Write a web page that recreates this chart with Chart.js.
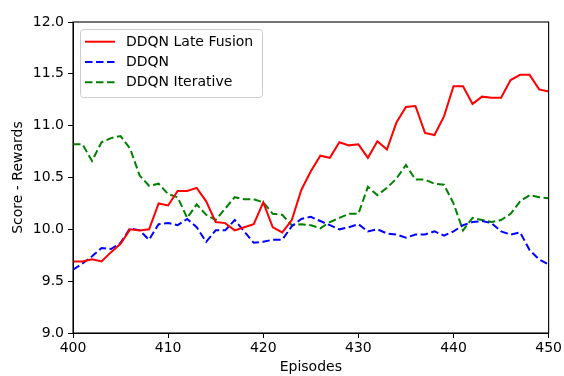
<!DOCTYPE html>
<html>
<head>
<meta charset="utf-8">
<script src="https://cdn.jsdelivr.net/npm/chart.js@4"></script>
<style>
html,body{margin:0;padding:0;background:#fff;}
canvas{display:block;}
</style>
</head>
<body>
<canvas id="c" width="564" height="376"></canvas>
<script>
const episodes = [400,401,402,403,404,405,406,407,408,409,410,411,412,413,414,415,416,417,418,419,420,421,422,423,424,425,426,427,428,429,430,431,432,433,434,435,436,437,438,439,440,441,442,443,444,445,446,447,448,449,450];

const lateFusion = [9.69,9.69,9.71,9.69,9.78,9.86,10.00,9.99,10.00,10.25,10.23,10.37,10.37,10.40,10.27,10.07,10.06,9.99,10.02,10.05,10.26,10.02,9.97,10.09,10.38,10.56,10.71,10.69,10.84,10.81,10.82,10.69,10.85,10.77,11.03,11.18,11.19,10.93,10.91,11.09,11.38,11.38,11.21,11.28,11.27,11.27,11.44,11.49,11.49,11.35,11.33];

const ddqn = [9.61,9.67,9.74,9.82,9.81,9.87,10.01,9.99,9.90,10.05,10.06,10.04,10.10,10.02,9.88,9.99,9.99,10.09,9.98,9.87,9.88,9.90,9.90,10.03,10.10,10.12,10.08,10.04,10.00,10.02,10.05,9.98,10.00,9.96,9.95,9.92,9.95,9.95,9.98,9.94,9.98,10.04,10.07,10.08,10.06,9.98,9.95,9.97,9.80,9.71,9.66];

const iterative = [10.82,10.82,10.66,10.84,10.88,10.90,10.78,10.52,10.42,10.44,10.34,10.31,10.11,10.24,10.14,10.09,10.20,10.31,10.29,10.29,10.26,10.15,10.14,10.04,10.05,10.04,10.01,10.07,10.11,10.15,10.15,10.41,10.33,10.40,10.49,10.62,10.48,10.48,10.44,10.43,10.25,9.99,10.11,10.09,10.07,10.09,10.15,10.27,10.33,10.31,10.30];

const seriesLabels = ['DDQN Late Fusion','DDQN','DDQN Iterative'];
const xTitle = 'Episodes';
const yTitle = 'Score - Rewards';

const toPts = arr => arr.map((v,i)=>({x:episodes[i], y:v}));

Chart.defaults.font.family = "'DejaVu Sans', sans-serif";
Chart.defaults.font.size = 14;
Chart.defaults.color = '#000';

const framePlugin = {
  id:'frame',
  afterDatasetsDraw(chart){
    const {ctx, chartArea:a} = chart;
    ctx.save();
    ctx.strokeStyle = '#000';
    ctx.lineWidth = 1.1;
    ctx.strokeRect(a.left, a.top, a.right-a.left, a.bottom-a.top);
    ctx.restore();
  }
};

const legendPlugin = {
  id:'mplLegend',
  afterDraw(chart){
    const {ctx, chartArea:a} = chart;
    const x0 = a.left + 7, y0 = a.top + 7, w = 182, h = 68;
    ctx.save();
    ctx.fillStyle = 'rgba(255,255,255,0.85)';
    ctx.strokeStyle = '#cccccc';
    ctx.lineWidth = 1;
    ctx.beginPath();
    if (ctx.roundRect) ctx.roundRect(x0+0.5, y0+0.5, w, h, 3); else ctx.rect(x0+0.5,y0+0.5,w,h);
    ctx.fill(); ctx.stroke();
    chart.data.datasets.forEach((ds,i)=>{
      const yy = y0 + 12.7 + i*20.3;
      ctx.strokeStyle = ds.borderColor;
      ctx.lineWidth = ds.borderWidth;
      ctx.setLineDash(ds.borderDash || []);
      ctx.beginPath();
      ctx.moveTo(x0+5, yy); ctx.lineTo(x0+35, yy);
      ctx.stroke();
      ctx.setLineDash([]);
      ctx.fillStyle = '#000';
      ctx.font = "14px 'DejaVu Sans', sans-serif";
      ctx.textBaseline = 'middle';
      ctx.textAlign = 'left';
      ctx.fillText(ds.label, x0+46, yy+0.5);
    });
    ctx.restore();
  }
};

new Chart(document.getElementById('c'), {
  type:'line',
  data:{
    datasets:[
      {label:seriesLabels[0], data:toPts(lateFusion), borderColor:'#ff0000', borderWidth:2, pointRadius:0, tension:0, fill:false},
      {label:seriesLabels[1], data:toPts(ddqn), borderColor:'#0000ff', borderWidth:2, borderDash:[7.5,3.5], pointRadius:0, tension:0, fill:false},
      {label:seriesLabels[2], data:toPts(iterative), borderColor:'#008000', borderWidth:2, borderDash:[7.5,3.5], pointRadius:0, tension:0, fill:false}
    ]
  },
  options:{
    responsive:false,
    animation:false,
    layout:{padding:{left:0, right:14, top:22, bottom:0}},
    plugins:{legend:{display:false}, tooltip:{enabled:false}},
    scales:{
      x:{
        type:'linear', min:400, max:450,
        afterFit(s){ s.height = 43; },
        ticks:{stepSize:10, padding:2, color:'#000', maxRotation:0, callback:v=>String(v)},
        grid:{display:true, drawOnChartArea:false, drawTicks:true, tickLength:5, color:'#000', lineWidth:1},
        border:{display:true, color:'#000', width:1},
        title:{display:true, text:xTitle, color:'#000', padding:{top:0,bottom:0}}
      },
      y:{
        type:'linear', min:9, max:12,
        afterFit(s){ s.width = 73; },
        ticks:{stepSize:0.5, padding:4, color:'#000', callback:v=>Number(v).toFixed(1)},
        grid:{display:true, drawOnChartArea:false, drawTicks:true, tickLength:5, color:'#000', lineWidth:1},
        border:{display:true, color:'#000', width:1},
        title:{display:true, text:yTitle, color:'#000', padding:{top:10,bottom:0}}
      }
    }
  },
  plugins:[framePlugin, legendPlugin]
});
</script>
</body>
</html>
